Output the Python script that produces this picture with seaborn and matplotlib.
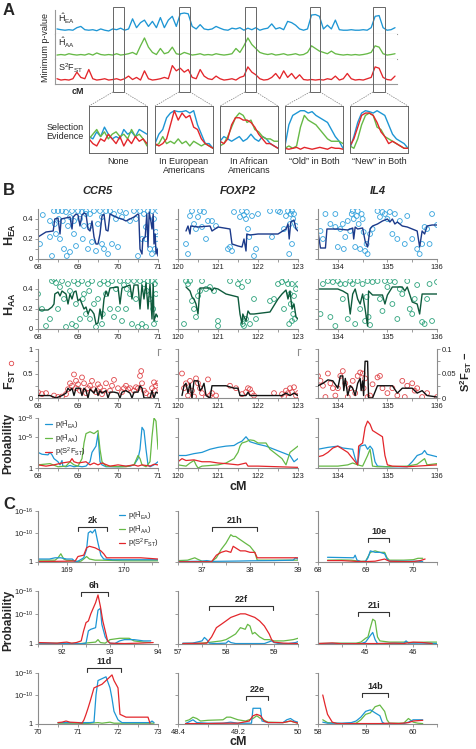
import numpy as np
import pandas as pd
import matplotlib
matplotlib.use("Agg")
import matplotlib.pyplot as plt
import seaborn as sns
from matplotlib.patches import Rectangle
from matplotlib.lines import Line2D

sns.set_theme(style="ticks")
plt.rcParams['font.family'] = ['Liberation Sans', 'DejaVu Sans']
plt.rcParams['mathtext.fontset'] = 'custom'
plt.rcParams['mathtext.rm'] = 'Liberation Sans'
plt.rcParams['mathtext.it'] = 'Liberation Sans:italic'
plt.rcParams['mathtext.bf'] = 'Liberation Sans:bold'

BLUE, GREEN, RED = '#1e96d4', '#66b946', '#e3262b'
NAVY, LBLUE, TEAL, DKGREEN = '#1c3a8a', '#35a3dd', '#2ea37c', '#0e5a3c'
SPINE = '#8c8c8c'

# ---------------- panel A: genome-wide traces (grid step 4) ----------------
a_hea = [0.25,0.22,0.2,0.22,0.2,0.3,0.35,0.22,0.2,0.22,0.18,0.25,0.2,0.17,0.25,0.22,0.28,0.2,0.25,0.65,
         0.3,0.5,0.6,0.35,0.55,0.3,0.7,0.3,0.6,0.75,0.35,0.85,0.88,0.85,0.35,0.25,0.42,0.25,0.22,0.25,
         0.35,0.28,0.22,0.2,0.28,0.25,0.3,0.2,0.28,0.22,0.3,0.2,0.25,0.28,0.45,0.25,0.3,0.22,0.55,0.5,
         0.4,0.25,0.2,0.25,0.8,0.82,0.75,0.25,0.4,0.25,0.6,0.22,0.2,0.2,0.22,0.2,0.2,0.22,0.2,0.3,
         0.75,0.78,0.3,0.2,0.22,0.3]
a_haa = [0.2,0.22,0.2,0.25,0.22,0.2,0.22,0.2,0.25,0.2,0.28,0.22,0.2,0.22,0.2,0.25,0.2,0.22,0.25,0.3,
         0.22,0.55,0.85,0.5,0.3,0.22,0.45,0.25,0.3,0.5,0.25,0.22,0.3,0.25,0.2,0.22,0.25,0.2,0.22,0.2,
         0.25,0.22,0.2,0.22,0.25,0.45,0.3,0.55,0.85,0.6,0.45,0.3,0.25,0.22,0.25,0.2,0.22,0.25,0.2,0.22,
         0.25,0.2,0.22,0.3,0.55,0.45,0.35,0.3,0.25,0.35,0.25,0.22,0.2,0.22,0.2,0.22,0.2,0.22,0.25,0.3,
         0.55,0.5,0.25,0.2,0.22,0.25]
a_s2fst = [0.25,0.2,0.22,0.2,0.25,0.5,0.3,0.25,0.6,0.25,0.2,0.22,0.25,0.2,0.22,0.25,0.2,0.25,0.35,0.22,
           0.3,0.2,0.55,0.25,0.2,0.22,0.25,0.3,0.25,0.75,0.55,0.65,0.5,0.6,0.3,0.25,0.6,0.35,0.25,0.22,
           0.35,0.25,0.2,0.22,0.25,0.2,0.3,0.35,0.7,0.5,0.4,0.25,0.2,0.22,0.3,0.45,0.25,0.55,0.3,0.45,
           0.25,0.4,0.22,0.2,0.22,0.2,0.22,0.2,0.25,0.22,0.35,0.2,0.25,0.45,0.25,0.2,0.22,0.2,0.25,0.3,
           0.7,0.65,0.3,0.22,0.2,0.35]
a_grid = np.arange(len(a_hea)) * 4
a_boxes = [(58, 69), (124, 135), (190, 201), (255, 265), (318, 330)]

# zoomed selection-evidence examples: (blue, green, red)
zoom_names = ["None", "In European\nAmericans", "In African\nAmericans",
              "\u201cOld\u201d in Both", "\u201cNew\u201d in Both"]
zoom_blue = [[0.35,0.3,0.45,0.35,0.55,0.4,0.3,0.35,0.3,0.5,0.4,0.45,0.35,0.5,0.45,0.4],
             [0.2,0.4,0.5,0.75,0.85,0.9,0.88,0.88,0.9,0.85,0.9,0.6,0.4,0.2,0.2,0.1],
             [0.25,0.35,0.3,0.25,0.3,0.35,0.25,0.3,0.4,0.3,0.25,0.35,0.3,0.2,0.15,0.1],
             [0.15,0.6,0.8,0.85,0.9,0.9,0.85,0.88,0.8,0.75,0.7,0.65,0.5,0.35,0.25,0.1],
             [0.1,0.35,0.65,0.85,0.9,0.88,0.85,0.9,0.85,0.8,0.6,0.4,0.3,0.25,0.2,0.1]]
zoom_green = [[0.3,0.4,0.5,0.35,0.45,0.3,0.4,0.45,0.35,0.4,0.3,0.5,0.35,0.4,0.3,0.15],
              [0.15,0.2,0.35,0.2,0.25,0.2,0.3,0.2,0.25,0.15,0.25,0.2,0.15,0.2,0.15,0.1],
              [0.15,0.2,0.35,0.55,0.75,0.85,0.8,0.65,0.7,0.5,0.45,0.35,0.3,0.3,0.25,0.25],
              [0.1,0.15,0.1,0.15,0.55,0.8,0.7,0.65,0.6,0.5,0.4,0.3,0.25,0.25,0.25,0.2],
              [0.15,0.1,0.3,0.6,0.8,0.85,0.8,0.55,0.5,0.35,0.3,0.25,0.2,0.15,0.1,0.1]]
zoom_red = [[0.3,0.2,0.15,0.3,0.25,0.4,0.3,0.2,0.35,0.15,0.3,0.2,0.35,0.25,0.3,0.2],
            [0.2,0.15,0.2,0.3,0.6,0.9,0.7,0.85,0.75,0.8,0.55,0.5,0.3,0.2,0.15,0.1],
            [0.25,0.2,0.3,0.6,0.75,0.75,0.7,0.7,0.65,0.55,0.4,0.3,0.2,0.2,0.15,0.1],
            [0.1,0.08,0.1,0.12,0.08,0.12,0.1,0.08,0.1,0.12,0.1,0.08,0.12,0.1,0.1,0.08],
            [0.15,0.3,0.55,0.8,0.85,0.85,0.8,0.65,0.45,0.35,0.2,0.25,0.2,0.15,0.1,0.1]]

# ---------------- panel B ----------------
genes = ["CCR5", "FOXP2", "IL4"]
b_xlims = [(68, 71), (120, 123), (133.6, 136)]
b_xticks = [[68, 69, 70, 71], [120, 121, 122, 123], [134, 135, 136]]

hea_pts = [
    [(68.05,0.15),(68.12,0.44),(68.3,0.38),(68.35,0.03),(68.4,0.48),(68.42,0.35),(68.45,0.25),(68.5,0.48),(68.52,0.4),
     (68.55,0.2),(68.6,0.48),(68.62,0.38),(68.65,0.1),(68.7,0.47),(68.72,0.03),(68.75,0.33),(68.8,0.07),(68.85,0.48),
     (68.9,0.25),(68.95,0.13),(69.0,0.48),(69.05,0.4),(69.1,0.47),(69.12,0.2),(69.15,0.33),(69.2,0.48),(69.25,0.1),
     (69.3,0.45),(69.35,0.17),(69.4,0.48),(69.45,0.08),(69.5,0.35),(69.55,0.48),(69.6,0.42),(69.65,0.1),(69.7,0.48),
     (69.75,0.05),(69.8,0.48),(69.85,0.15),(69.9,0.45),(69.95,0.4),(70.0,0.12),(70.05,0.48),(70.1,0.42),(70.2,0.46),
     (70.3,0.38),(70.4,0.48),(70.45,0.4),(70.5,0.03),(70.55,0.48),(70.6,0.2),(70.65,0.45),(70.7,0.32),(70.75,0.48),
     (70.8,0.1),(70.85,0.48),(70.9,0.4),(70.95,0.27),(71.0,0.48),(68.9,0.38),(69.3,0.33),(69.6,0.15),(70.7,0.2),
     (70.85,0.05),(68.3,0.22),(68.8,0.42),(69.2,0.45),(70.92,0.1),(70.97,0.2)],
    [(120.2,0.15),(120.25,0.05),(120.3,0.43),(120.35,0.48),(120.4,0.35),(120.45,0.3),(120.5,0.42),(120.55,0.48),
     (120.6,0.32),(120.65,0.47),(120.7,0.2),(120.75,0.38),(120.85,0.38),(121.3,0.12),(121.35,0.08),(121.4,0.47),
     (121.55,0.42),(121.6,0.48),(121.65,0.44),(121.7,0.4),(121.72,0.47),(121.75,0.3),(121.78,0.22),(121.85,0.43),
     (121.9,0.03),(121.95,0.1),(122.0,0.45),(122.3,0.48),(122.35,0.22),(122.5,0.48),(122.55,0.47),(122.65,0.3),
     (122.7,0.43),(122.75,0.48),(122.8,0.35),(122.82,0.45),(122.85,0.48),(122.88,0.4),(122.9,0.45),(122.95,0.33),
     (122.78,0.05),(122.85,0.15),(121.25,0.1),(120.95,0.33)],
    [(133.65,0.28),(133.7,0.2),(133.75,0.45),(133.85,0.35),(133.95,0.32),(134.0,0.12),(134.05,0.3),(134.1,0.35),
     (134.15,0.22),(134.2,0.38),(134.25,0.28),(134.28,0.45),(134.3,0.48),(134.32,0.4),(134.35,0.12),(134.38,0.43),
     (134.4,0.48),(134.42,0.35),(134.45,0.1),(134.48,0.45),(134.5,0.4),(134.52,0.27),(134.55,0.08),(134.58,0.15),
     (134.6,0.05),(134.65,0.25),(134.7,0.3),(134.8,0.48),(134.85,0.42),(134.9,0.47),(134.95,0.45),(135.0,0.4),
     (135.05,0.47),(135.1,0.25),(135.15,0.45),(135.2,0.2),(135.25,0.38),(135.35,0.15),(135.4,0.43),(135.5,0.2),
     (135.6,0.1),(135.65,0.05),(135.7,0.15),(135.75,0.32),(135.8,0.3),(135.85,0.15),(135.9,0.45),(136.0,0.34),
     (134.12,0.1),(133.95,0.45)],
]
hea_line = [
    [(68.0,0.22),(68.2,0.27),(68.38,0.28),(68.42,0.40),(68.5,0.41),(68.55,0.25),(68.58,0.40),(68.8,0.42),(68.85,0.3),
     (68.88,0.42),(68.95,0.45),(69.0,0.44),(69.05,0.33),(69.1,0.44),(69.15,0.46),(69.2,0.45),(69.25,0.3),(69.3,0.28),
     (69.35,0.38),(69.4,0.22),(69.45,0.15),(69.5,0.15),(69.55,0.25),(69.6,0.43),(69.65,0.45),(69.7,0.29),(69.75,0.28),
     (69.8,0.45),(69.9,0.43),(70.0,0.41),(70.1,0.40),(70.2,0.38),(70.3,0.40),(70.4,0.42),(70.5,0.45),(70.52,0.44),
     (70.55,0.1),(70.6,0.05),(70.62,0.2),(70.68,0.22),(70.72,0.45),(70.75,0.12),(70.78,0.47),(70.82,0.38),(70.85,0.3),
     (70.88,0.45),(70.9,0.15),(70.93,0.25),(70.95,0.05),(70.98,0.1),(71.0,0.03)],
    [(120.2,0.28),(120.25,0.33),(120.3,0.25),(120.32,0.33),(120.5,0.32),(120.8,0.33),(120.85,0.28),(121.0,0.32),
     (121.3,0.30),(121.35,0.15),(121.5,0.13),(121.6,0.12),(121.65,0.2),(121.7,0.08),(121.72,0.25),(121.8,0.24),
     (122.0,0.25),(122.5,0.25),(122.7,0.3),(122.75,0.35),(122.78,0.2),(122.82,0.37),(122.9,0.39),(122.95,0.3),(123.0,0.28)],
    [(133.6,0.27),(133.65,0.11),(133.75,0.11),(133.78,0.30),(134.0,0.30),(134.2,0.29),(134.3,0.31),(134.32,0.2),
     (134.35,0.32),(134.4,0.30),(134.5,0.31),(134.55,0.18),(134.6,0.12),(134.65,0.30),(134.7,0.33),(134.8,0.35),
     (134.9,0.38),(135.0,0.4),(135.05,0.37),(135.1,0.4),(135.15,0.35),(135.2,0.37),(135.3,0.33),(135.4,0.32),
     (135.5,0.30),(135.6,0.28),(135.65,0.12),(135.7,0.28),(135.75,0.25),(135.8,0.33),(135.9,0.34),(136.0,0.34)],
]
haa_pts = [
    [(68.0,0.35),(68.1,0.2),(68.2,0.03),(68.3,0.1),(68.35,0.48),(68.4,0.5),(68.45,0.46),(68.5,0.2),(68.55,0.42),
     (68.6,0.48),(68.65,0.3),(68.7,0.02),(68.75,0.45),(68.8,0.38),(68.85,0.05),(68.9,0.48),(68.95,0.25),(69.0,0.45),
     (69.05,0.1),(69.1,0.48),(69.15,0.35),(69.2,0.15),(69.25,0.45),(69.3,0.1),(69.35,0.48),(69.4,0.25),(69.45,0.02),
     (69.5,0.3),(69.55,0.45),(69.6,0.05),(69.65,0.48),(69.7,0.35),(69.75,0.45),(69.8,0.2),(69.85,0.48),(69.9,0.12),
     (69.95,0.4),(70.0,0.2),(70.05,0.48),(70.1,0.08),(70.15,0.44),(70.2,0.2),(70.25,0.48),(70.3,0.35),(70.35,0.05),
     (70.4,0.48),(70.45,0.3),(70.5,0.02),(70.55,0.48),(70.6,0.05),(70.65,0.45),(70.7,0.02),(70.75,0.48),(70.8,0.3),
     (70.85,0.48),(70.9,0.05),(70.95,0.35),(71.0,0.48),(69.12,0.3),(69.28,0.38),(70.88,0.2),(70.72,0.38),(68.95,0.03),
     (69.62,0.15),(70.22,0.4),(70.92,0.45),(70.97,0.1)],
    [(120.15,0.05),(120.2,0.48),(120.25,0.45),(120.3,0.48),(120.35,0.28),(120.4,0.2),(120.45,0.12),(120.5,0.33),
     (120.55,0.38),(120.6,0.48),(120.7,0.4),(120.8,0.42),(120.9,0.38),(121.0,0.08),(121.3,0.48),(121.5,0.45),
     (121.55,0.5),(121.6,0.42),(121.62,0.05),(121.65,0.03),(121.7,0.1),(121.75,0.48),(121.8,0.05),(121.9,0.3),
     (121.95,0.1),(122.3,0.28),(122.4,0.3),(122.5,0.45),(122.6,0.47),(122.7,0.49),(122.75,0.45),(122.8,0.35),
     (122.82,0.25),(122.85,0.45),(122.88,0.15),(122.9,0.33),(122.92,0.1),(122.95,0.4),(123.0,0.45),(122.65,0.2),
     (122.78,0.05),(122.85,0.08),(121.0,0.03)],
    [(133.65,0.15),(133.7,0.45),(133.8,0.48),(133.85,0.12),(133.9,0.47),(133.95,0.03),(134.0,0.48),(134.05,0.45),
     (134.1,0.3),(134.15,0.45),(134.2,0.1),(134.25,0.48),(134.3,0.45),(134.35,0.05),(134.4,0.48),(134.45,0.2),
     (134.5,0.45),(134.55,0.08),(134.6,0.48),(134.62,0.12),(134.65,0.04),(134.7,0.47),(134.8,0.48),(134.85,0.3),
     (134.9,0.18),(134.95,0.48),(135.0,0.42),(135.05,0.48),(135.1,0.25),(135.15,0.47),(135.2,0.1),(135.25,0.4),
     (135.3,0.35),(135.4,0.48),(135.45,0.2),(135.5,0.15),(135.6,0.44),(135.7,0.07),(135.75,0.05),(135.8,0.3),
     (135.85,0.45),(135.9,0.08),(136.0,0.47),(135.55,0.3),(134.58,0.32)],
]
haa_line = [
    [(68.0,0.28),(68.02,0.19),(68.25,0.19),(68.35,0.22),(68.4,0.25),(68.42,0.35),(68.5,0.37),(68.55,0.33),(68.6,0.38),
     (68.7,0.35),(68.75,0.25),(68.8,0.35),(68.85,0.3),(68.9,0.37),(68.95,0.38),(69.0,0.28),(69.05,0.3),(69.1,0.25),
     (69.15,0.2),(69.2,0.22),(69.25,0.15),(69.3,0.2),(69.35,0.18),(69.4,0.15),(69.45,0.05),(69.5,0.06),(69.55,0.2),
     (69.6,0.1),(69.65,0.3),(69.7,0.38),(69.75,0.33),(69.8,0.41),(70.0,0.42),(70.05,0.25),(70.1,0.41),(70.3,0.44),
     (70.35,0.3),(70.4,0.44),(70.5,0.44),(70.55,0.2),(70.6,0.44),(70.65,0.3),(70.7,0.46),(70.75,0.2),(70.8,0.45),
     (70.85,0.1),(70.88,0.45),(70.9,0.08),(70.95,0.15),(71.0,0.12)],
    [(120.2,0.42),(120.3,0.38),(120.35,0.32),(120.4,0.3),(120.45,0.25),(120.5,0.15),(120.55,0.41),(120.8,0.41),
     (120.85,0.38),(120.9,0.41),(121.0,0.4),(121.2,0.35),(121.4,0.33),(121.5,0.32),(121.55,0.15),(121.6,0.05),
     (121.62,0.15),(121.7,0.08),(121.75,0.18),(121.8,0.15),(121.9,0.15),(122.3,0.17),(122.5,0.3),(122.6,0.35),
     (122.7,0.39),(122.75,0.3),(122.8,0.38),(122.85,0.2),(122.9,0.25),(122.95,0.12),(123.0,0.1)],
    [(133.6,0.4),(134.0,0.4),(134.1,0.38),(134.2,0.35),(134.25,0.15),(134.3,0.35),(134.35,0.4),(134.4,0.3),
     (134.45,0.25),(134.5,0.35),(134.55,0.2),(134.6,0.03),(134.62,0.38),(134.7,0.34),(134.9,0.34),(134.95,0.25),
     (135.0,0.34),(135.1,0.42),(135.3,0.42),(135.35,0.38),(135.4,0.42),(135.5,0.27),(135.6,0.25),(135.65,0.15),
     (135.7,0.35),(136.0,0.35)],
]
fst_pts = [
    [(68.0,0.12),(68.1,0.08),(68.2,0.1),(68.4,0.05),(68.5,0.02),(68.6,0.03),(68.7,0.08),(68.75,0.18),(68.8,0.3),
     (68.85,0.25),(68.9,0.48),(68.95,0.2),(69.0,0.28),(69.05,0.15),(69.1,0.42),(69.15,0.3),(69.2,0.1),(69.3,0.25),
     (69.35,0.35),(69.4,0.18),(69.45,0.12),(69.5,0.28),(69.55,0.22),(69.6,0.08),(69.7,0.3),(69.8,0.15),(69.85,0.25),
     (69.9,0.37),(70.0,0.2),(70.1,0.12),(70.15,0.2),(70.2,0.25),(70.3,0.2),(70.4,0.15),(70.45,0.22),(70.5,0.2),
     (70.55,0.45),(70.58,0.55),(70.6,0.3),(70.65,0.15),(70.8,0.05),(70.85,0.2),(70.9,0.32),(70.95,0.25),(71.0,0.3),
     (68.95,0.35),(69.25,0.2),(69.65,0.15),(70.25,0.18),(70.7,0.1),(70.92,0.15)],
    [(120.1,0.5),(120.15,0.2),(120.2,0.3),(120.25,0.05),(120.3,0.35),(120.35,0.15),(120.4,0.03),(120.45,0.4),
     (120.5,0.3),(120.55,0.2),(120.6,0.1),(120.7,0.02),(120.75,0.38),(120.8,0.05),(120.85,0.1),(121.3,0.25),
     (121.45,0.2),(121.6,0.08),(121.7,0.12),(121.8,0.18),(121.85,0.1),(121.9,0.05),(122.4,0.1),(122.6,0.08),
     (122.7,0.15),(122.75,0.1),(122.8,0.2),(122.85,0.12),(122.9,0.22),(122.95,0.05),(123.0,0.1),(120.95,0.05),
     (121.75,0.2),(122.65,0.03)],
    [(133.6,0.45),(133.65,0.35),(133.7,0.25),(133.75,0.02),(133.8,0.5),(133.85,0.3),(133.9,0.2),(133.95,0.05),
     (134.0,0.2),(134.05,0.45),(134.1,0.55),(134.15,0.3),(134.2,0.02),(134.25,0.2),(134.3,0.35),(134.35,0.1),
     (134.4,0.45),(134.45,0.52),(134.5,0.5),(134.52,0.2),(134.55,0.4),(134.6,0.02),(134.7,0.28),(134.8,0.42),
     (134.85,0.45),(134.9,0.2),(135.0,0.1),(135.1,0.2),(135.2,0.05),(135.3,0.35),(135.4,0.25),(135.5,0.3),
     (135.55,0.15),(135.6,0.2),(135.7,0.02),(135.8,0.1),(136.0,0.02),(135.35,0.02),(134.65,0.05)],
]
s2fst_line = [
    [(68.0,0.005),(68.3,0.005),(68.45,0.0),(68.6,0.005),(68.7,0.01),(68.75,0.02),(68.8,0.015),(68.85,0.02),(68.9,0.005),
     (68.95,0.02),(69.05,0.02),(69.1,0.005),(69.15,0.02),(69.2,0.015),(69.25,0.0),(69.3,0.018),(69.4,0.01),(69.45,0.02),
     (69.5,0.005),(69.55,0.015),(69.6,0.01),(69.7,0.015),(69.75,0.0),(69.8,0.012),(69.9,0.012),(70.0,0.01),(70.05,0.0),
     (70.1,0.012),(70.2,0.015),(70.3,0.01),(70.35,0.0),(70.4,0.012),(70.5,0.012),(70.55,0.025),(70.6,0.02),(70.65,0.0),
     (70.8,0.0),(70.85,0.015),(70.9,0.0),(70.95,0.012),(71.0,0.01)],
    [(120.1,0.005),(120.15,0.025),(120.2,0.03),(120.25,0.01),(120.3,0.03),(120.35,0.0),(120.4,0.035),(120.5,0.035),
     (120.55,0.015),(120.6,0.02),(120.65,0.03),(120.7,0.005),(120.8,0.0),(120.85,0.025),(121.2,0.025),(121.4,0.02),
     (121.5,0.02),(121.55,0.005),(121.7,0.005),(121.75,0.012),(121.8,0.005),(122.0,0.005),(122.6,0.005),(122.7,0.01),
     (122.8,0.005),(122.9,0.01),(123.0,0.005)],
    [(133.6,0.025),(133.7,0.03),(133.8,0.037),(133.9,0.035),(134.0,0.02),(134.05,0.045),(134.1,0.045),(134.12,0.015),
     (134.15,0.04),(134.2,0.005),(134.25,0.025),(134.3,0.02),(134.35,0.005),(134.4,0.03),(134.45,0.04),(134.47,0.015),
     (134.5,0.035),(134.52,0.005),(134.55,0.075),(134.6,0.075),(134.62,0.0),(134.7,0.0),(134.8,0.025),(135.1,0.025),
     (135.2,0.01),(135.3,0.02),(135.5,0.02),(135.6,0.01),(135.7,0.015),(135.8,0.005),(136.0,0.002)],
]
# probability rows, in -log10(p)
prob_blue = [
    [(68.0,2.5),(68.1,2.2),(68.25,2.1),(68.3,2.5),(68.35,2.1),(68.4,1.5),(68.5,1.0),(68.55,0.5),(68.6,1.2),(68.62,0.3),
     (68.7,0.2),(68.8,0.4),(68.9,0.2),(69.0,0.3),(69.1,0.2),(69.2,0.3),(69.3,1.0),(69.35,2.5),(69.4,3.0),(69.45,3.5),
     (69.5,5.5),(69.55,1.0),(69.6,0.5),(69.7,0.2),(70.0,0.2),(70.3,0.3),(70.4,0.5),(70.5,1.5),(70.55,3.0),(70.6,6.5),
     (70.65,6.0),(70.7,3.0),(70.75,0.5),(70.8,0.2),(70.9,0.5),(71.0,1.0)],
    [(120.0,2.0),(120.2,2.0),(120.4,2.3),(120.6,2.5),(120.8,3.0),(121.0,3.3),(121.2,3.5),(121.4,3.6),(121.5,4.0),
     (121.6,4.3),(121.7,5.0),(121.75,4.6),(121.8,4.2),(122.0,3.8),(122.2,3.5),(122.4,3.0),(122.6,2.5),(122.8,2.0),
     (122.9,1.0),(123.0,1.5)],
    [(133.6,3.0),(133.8,3.3),(134.0,3.5),(134.1,3.2),(134.3,3.0),(134.35,1.5),(134.4,0.5),(134.45,3.5),(134.55,3.7),
     (134.6,3.0),(134.65,3.5),(134.7,3.0),(134.75,1.0),(134.8,0.3),(135.0,0.2),(135.4,0.2),(135.5,1.0),(135.6,2.0),
     (135.7,2.3),(135.75,2.8),(135.8,2.2),(135.9,2.0),(136.0,1.8)],
]
prob_green = [
    [(68.0,0.5),(68.3,0.7),(68.5,0.2),(68.7,0.3),(68.8,1.0),(68.9,0.5),(69.0,0.3),(69.1,1.5),(69.15,4.0),(69.2,5.5),
     (69.3,5.8),(69.4,5.5),(69.5,6.0),(69.55,3.0),(69.6,1.0),(69.7,0.3),(70.0,0.2),(70.2,0.2),(70.4,0.5),(70.5,2.0),
     (70.55,1.5),(70.6,0.5),(70.7,0.2),(70.8,1.0),(70.85,5.0),(70.9,8.0),(70.95,7.5),(71.0,3.0)],
    [(120.0,0.5),(120.2,0.3),(120.3,0.8),(120.4,1.2),(120.45,0.5),(120.5,0.0),(120.6,0.3),(121.0,0.5),(121.2,0.8),
     (121.4,1.5),(121.5,2.5),(121.55,3.5),(121.6,4.0),(121.7,4.2),(121.8,4.5),(121.9,4.4),(122.0,4.0),(122.2,4.0),
     (122.3,3.0),(122.4,2.5),(122.5,2.0),(122.6,1.5),(122.7,0.5),(122.8,2.5),(122.9,3.0),(123.0,3.5)],
    [(133.6,0.3),(134.0,0.3),(134.2,0.5),(134.3,0.8),(134.4,0.5),(134.5,0.3),(134.6,2.0),(134.65,3.0),(134.7,0.3),
     (134.8,0.2),(135.0,0.2),(135.4,0.3),(135.6,0.6),(135.7,1.2),(135.75,1.5),(135.8,0.5),(135.9,0.6),(136.0,0.7)],
]
prob_red = [
    [(68.0,0.5),(68.2,0.3),(68.4,0.5),(68.6,0.8),(68.8,1.0),(68.85,1.5),(68.9,1.0),(69.0,0.8),(69.2,1.0),(69.3,0.5),
     (69.4,0.8),(69.5,0.5),(69.6,0.8),(69.8,0.3),(70.0,0.5),(70.2,0.3),(70.4,0.5),(70.5,0.3),(70.6,0.5),(70.8,0.3),
     (70.9,0.6),(71.0,0.5)],
    [(120.0,1.0),(120.1,1.5),(120.2,1.2),(120.4,1.3),(120.6,1.0),(120.8,1.0),(121.0,0.8),(121.2,0.7),(121.5,0.5),
     (121.7,0.8),(121.75,0.3),(122.0,0.3),(122.5,0.2),(123.0,0.1)],
    [(133.6,1.8),(133.7,2.0),(133.8,2.5),(133.9,3.2),(134.0,3.5),(134.1,3.0),(134.2,2.5),(134.3,1.5),(134.4,0.5),
     (134.42,3.5),(134.5,4.0),(134.55,6.5),(134.6,7.5),(134.65,7.0),(134.7,6.0),(134.8,5.5),(134.9,5.0),(134.95,2.0),
     (135.0,0.5),(135.1,0.3),(135.4,0.2),(135.6,0.3),(136.0,0.5)],
]

# ---------------- panel C: candidate regions, -log10(p) ----------------
c_names = ["2k", "21h", "10e", "6h", "22f", "21i", "11d", "22e", "14b"]
c_xlims = [(168.5, 170.6), (36.5, 39), (68, 70.5), (91.5, 94), (57, 59.5), (44, 46.5), (70, 73), (48.4, 50), (58, 60.5)]
c_xticks = [[169, 170], [37, 38, 39], [68, 69, 70], [92, 93, 94], [57, 58, 59], [45, 46], [70, 71, 72, 73],
            [48.4, 49.2, 50], [58, 59, 60]]
c_brackets = [(169.2, 169.7), (37.2, 38.15), (69.05, 69.5), (92.4, 92.95), (57.65, 58.98), (44.85, 45.5),
              (71.22, 72.07), (49.3, 49.6), (58.93, 59.47)]
c_bracket_h = [0.69, 0.69, 0.47, 0.98, 0.72, 0.6, 1.1, 0.55, 0.61]
c_blue = [
    [(168.5,1.5),(168.7,1.5),(168.8,2.0),(168.9,2.0),(169.0,1.5),(169.1,1.5),(169.15,0.3),(169.2,0.5),(169.3,2.0),
     (169.35,5.0),(169.38,10.0),(169.42,10.5),(169.45,10.0),(169.5,11.0),(169.55,7.0),(169.6,3.0),(169.65,1.5),
     (169.8,1.2),(170.6,1.2)],
    [(36.5,0.3),(37.0,0.5),(37.1,0.8),(37.2,0.4),(37.5,0.5),(37.8,0.6),(38.0,0.7),(38.5,0.8),(38.9,1.0),(38.95,2.0),(39.0,1.5)],
    [(68.2,2.2),(68.75,2.0),(68.78,3.0),(68.82,1.0),(68.9,0.3),(69.0,0.4),(69.05,2.0),(69.1,4.5),(69.2,4.0),(69.3,4.0),
     (69.4,3.5),(69.45,1.5),(69.5,0.5),(70.1,0.5),(70.2,0.3)],
    [(91.5,0.5),(92.0,0.3),(92.4,0.2),(92.5,0.5),(92.55,5.0),(92.6,5.5),(92.7,6.0),(92.75,11.0),(92.8,11.5),(92.83,7.0),
     (92.9,3.0),(92.95,1.5),(93.0,0.5),(93.1,0.3),(93.2,1.5),(93.3,2.0),(93.5,2.0),(93.7,1.5),(93.85,1.5)],
    [(57.1,0.5),(57.3,0.5),(57.5,1.5),(57.55,2.8),(57.6,2.0),(57.65,0.5),(57.8,0.3),(58.0,0.5),(58.05,1.5),(58.1,0.8),
     (58.2,0.3),(58.8,0.3),(58.95,1.5),(59.0,0.8),(59.1,0.3),(59.3,0.3),(59.45,0.8),(59.5,1.2)],
    [(44.0,0.3),(44.9,0.3),(45.0,1.0),(45.1,3.5),(45.15,4.5),(45.2,2.0),(45.25,0.3),(45.8,0.5),(45.85,1.5),(45.9,0.5),
     (46.2,0.5),(46.5,0.3)],
    [(70.5,0.8),(71.3,0.8),(71.4,1.0),(71.45,10.0),(71.5,14.0),(71.6,14.5),(71.7,15.0),(71.8,12.0),(71.85,9.0),
     (71.9,5.0),(72.0,2.0),(72.1,0.8),(72.8,0.8),(72.85,1.5),(72.9,0.8)],
    [(48.5,0.3),(48.6,2.0),(48.65,0.8),(48.8,0.5),(49.0,0.5),(49.1,1.0),(49.2,0.5),(49.38,0.5),(49.4,6.0),(49.5,6.0),
     (49.52,1.5),(49.6,0.8),(49.8,0.8),(49.85,2.0),(49.9,2.5),(49.95,1.5),(50.0,1.0)],
    [(58.1,1.0),(58.2,0.5),(58.5,0.5),(58.7,0.8),(58.8,1.5),(58.9,3.0),(59.0,5.0),(59.1,5.5),(59.2,4.5),(59.3,3.5),
     (59.35,1.0),(59.4,0.3),(59.8,0.3),(59.9,1.0),(60.0,2.0),(60.2,2.0)],
]
c_green = [
    [(168.5,1.0),(168.8,1.0),(168.85,2.0),(168.9,3.5),(168.95,1.5),(169.0,1.0),(169.1,0.8),(169.2,0.3),(169.25,0.5),
     (169.3,1.5),(169.35,2.5),(169.4,1.5),(169.5,1.0),(169.6,1.0),(170.0,0.7),(170.6,0.7)],
    [(36.5,0.8),(36.7,1.0),(36.85,2.0),(36.9,1.5),(37.0,0.5),(37.2,0.3),(37.3,2.0),(37.4,5.0),(37.5,7.0),(37.6,9.5),
     (37.65,9.0),(37.7,9.0),(37.75,8.5),(37.9,7.0),(38.0,6.0),(38.1,4.0),(38.15,1.0),(39.0,1.0)],
    [(68.2,1.0),(68.5,1.1),(68.7,1.0),(68.9,0.4),(69.0,0.5),(69.1,4.0),(69.2,4.5),(69.3,4.0),(69.4,4.0),(69.45,2.0),
     (69.5,1.0),(69.8,1.0),(70.0,1.2),(70.1,1.8),(70.2,1.8)],
    [(91.5,0.3),(92.0,0.5),(92.4,0.3),(92.6,0.8),(92.7,1.0),(92.75,2.0),(92.8,0.8),(92.9,0.5),(93.0,2.0),(93.2,2.5),
     (93.4,2.5),(93.5,1.5),(93.7,1.0),(93.85,0.8)],
    [(57.1,0.3),(57.5,0.5),(57.7,1.0),(57.9,1.5),(58.0,2.0),(58.1,3.0),(58.2,4.0),(58.3,6.0),(58.4,5.5),(58.45,7.0),
     (58.5,6.5),(58.55,4.0),(58.6,4.5),(58.7,3.0),(58.8,2.0),(58.9,2.0),(59.0,1.5),(59.2,1.5),(59.4,2.0),(59.5,2.5)],
    [(44.0,0.3),(44.4,0.5),(44.8,0.5),(44.9,1.0),(45.0,2.5),(45.05,3.0),(45.1,6.0),(45.15,8.5),(45.2,8.0),(45.25,3.0),
     (45.3,1.5),(45.5,1.0),(45.8,1.0),(46.0,0.8),(46.3,1.0),(46.5,1.0)],
    [(70.5,0.5),(71.0,0.5),(71.2,0.3),(71.5,0.8),(71.6,0.5),(71.8,1.0),(71.9,0.5),(72.9,0.5)],
    [(48.5,1.5),(48.55,2.0),(48.6,3.0),(48.65,2.5),(48.7,1.5),(48.8,1.8),(49.0,2.0),(49.05,3.0),(49.1,3.0),(49.15,2.5),
     (49.2,2.0),(49.3,1.5),(49.4,2.5),(49.45,3.5),(49.5,2.5),(49.6,1.0),(49.8,0.8),(49.9,1.5),(49.95,1.0),(50.0,0.5)],
    [(58.1,2.0),(58.2,0.8),(58.5,0.3),(58.8,0.5),(58.9,2.0),(59.0,4.0),(59.1,4.5),(59.2,6.5),(59.3,7.0),(59.4,5.0),
     (59.45,2.0),(59.5,0.5),(59.8,0.5),(59.9,2.5),(60.0,1.0),(60.1,0.5),(60.2,0.3)],
]
c_red = [
    [(168.5,0.3),(169.0,0.5),(169.15,0.6),(169.2,2.5),(169.3,3.0),(169.35,5.5),(169.4,6.0),(169.5,5.5),(169.6,4.5),
     (169.65,3.5),(169.7,2.0),(170.3,2.0),(170.6,1.5)],
    [(36.5,0.2),(37.2,0.2),(37.3,3.0),(37.4,4.0),(37.5,4.5),(37.6,4.0),(37.65,6.0),(37.7,5.5),(37.8,4.5),(37.9,4.5),
     (38.0,4.0),(38.1,4.0),(38.15,2.0),(39.0,2.0)],
    [(68.2,0.8),(68.5,0.8),(68.8,0.4),(69.0,0.3),(69.2,0.5),(69.4,1.5),(69.45,1.0),(69.5,0.5),(69.8,0.3),(70.0,0.3),
     (70.15,0.8),(70.25,1.5)],
    [(91.5,0.8),(91.9,0.5),(92.0,0.8),(92.1,1.0),(92.2,0.5),(92.3,0.8),(92.4,1.5),(92.45,5.0),(92.5,7.5),(92.55,8.0),
     (92.6,10.0),(92.7,13.0),(92.75,15.0),(92.8,12.0),(92.85,8.0),(92.9,5.0),(92.95,1.5),(93.0,0.5),(93.3,0.3),
     (93.6,0.5),(93.9,0.8)],
    [(57.1,0.3),(57.6,0.5),(57.7,3.0),(57.8,6.0),(57.9,7.0),(58.0,8.0),(58.1,9.0),(58.2,9.5),(58.3,10.0),(58.4,10.0),
     (58.5,9.5),(58.6,9.0),(58.7,8.0),(58.8,6.5),(58.9,4.0),(58.95,2.0),(59.0,1.0),(59.2,0.5),(59.5,0.3)],
    [(44.0,0.3),(44.3,0.6),(44.5,0.2),(45.0,0.3),(45.3,0.3),(45.6,0.5),(45.8,0.3),(46.0,1.0),(46.2,0.8),(46.4,0.3)],
    [(70.5,0.8),(70.6,1.0),(70.7,1.5),(70.8,1.0),(71.0,0.8),(71.1,0.5),(71.15,2.0),(71.2,4.0),(71.25,6.0),(71.3,8.0),
     (71.4,12.0),(71.5,12.5),(71.6,13.0),(71.7,14.0),(71.8,15.0),(71.85,15.5),(71.9,14.0),(72.0,12.0),(72.05,4.0),
     (72.2,3.0),(72.75,3.0),(72.8,0.5)],
    [(48.5,0.3),(48.8,0.3),(49.0,0.5),(49.2,0.5),(49.35,1.5),(49.4,3.5),(49.45,4.0),(49.5,3.5),(49.55,1.5),(49.6,0.8),
     (49.8,0.8),(49.9,1.5),(50.0,0.5)],
    [(58.1,10.0),(58.15,7.0),(58.2,4.0),(58.3,1.0),(58.4,0.3),(59.3,0.3),(59.5,0.5),(59.7,0.3),(59.9,0.8),(60.0,1.5),
     (60.2,1.8)],
]

# ---------------- helpers ----------------
W, H = 476, 749
fig = plt.figure(figsize=(W / 100, H / 100), dpi=100)
TICK_FS = 5.5


def px_ax(x0, y0, x1, y1):
    return fig.add_axes([x0 / W, 1 - y1 / H, (x1 - x0) / W, (y1 - y0) / H])


def ftext(x, y, s, **kw):
    fig.text(x / W, 1 - y / H, s, **kw)


def fline(xs, ys, **kw):
    fig.add_artist(Line2D([x / W for x in xs], [1 - y / H for y in ys], transform=fig.transFigure, **kw))


def draw(ax, pts, color, lw=0.9, label=None):
    d = pd.DataFrame(pts, columns=["cM", "v"])
    sns.lineplot(data=d, x="cM", y="v", ax=ax, color=color, lw=lw, sort=False,
                 estimator=None, label=label)


def dots(ax, pts, color):
    d = pd.DataFrame(pts, columns=["cM", "v"])
    sns.scatterplot(data=d, x="cM", y="v", ax=ax, marker="o", s=12,
                    facecolor="none", edgecolor=color, linewidth=0.6)


def style(ax, xlim, xticks, ylim, yticks, ylabels, show_ylab):
    ax.set_xlim(xlim)
    ax.set_ylim(ylim)
    ax.set_xticks(xticks)
    ax.set_xticklabels([("%g" % t) for t in xticks])
    step = (xticks[1] - xticks[0]) / 2
    ax.set_xticks(np.arange(xticks[0] - step, xlim[1] + 1e-6, step), minor=True)
    ax.set_xlim(xlim)
    ax.set_yticks(yticks)
    ax.set_yticklabels(ylabels if show_ylab else [])
    sns.despine(ax=ax)
    for s in ("left", "bottom"):
        ax.spines[s].set_color(SPINE)
        ax.spines[s].set_linewidth(0.8)
    ax.tick_params(which="both", length=2.5, width=0.6, color=SPINE, labelsize=TICK_FS, pad=1,
                   labelcolor="#222222")
    ax.tick_params(which="minor", length=2)
    ax.set_xlabel("")
    ax.set_ylabel("")
    if ax.get_legend() is not None:
        ax.get_legend().remove()


# ---------------- panel A ----------------
ftext(3, 3, "A", fontsize=12, fontweight="bold", va="top")
rows_a = [(a_hea, BLUE, 10, 34, r"$\hat{\mathrm{H}}_{\mathrm{EA}}$"),
          (a_haa, GREEN, 34, 59, r"$\hat{\mathrm{H}}_{\mathrm{AA}}$"),
          (a_s2fst, RED, 59, 84, r"S$^2$F$_{\mathrm{ST}}$")]
for vals, col, y0, y1, lab in rows_a:
    ax = px_ax(55, y0, 397, y1)
    draw(ax, list(zip(a_grid, vals)), col, lw=0.95)
    ax.set_xlim(-2, 342)
    ax.set_ylim(0.05, 1.0)
    ax.set_xticks([]); ax.set_yticks([])
    ax.set_xlabel(""); ax.set_ylabel("")
    sns.despine(ax=ax)
    for s in ("left", "bottom"):
        ax.spines[s].set_color("#999999")
        ax.spines[s].set_linewidth(0.8)
    ftext(58, y0 + 9, lab, fontsize=6.5, va="center")
ftext(72, 92, "cM", fontsize=6.5, fontweight="bold", va="center")
ftext(46, 47, "Minimum p-value", fontsize=6.5, rotation=90, ha="center", va="center")

zoom_x = [(89, 147), (155, 213), (220, 278), (285, 343), (350, 408)]
for k, (bx0, bx1) in enumerate(a_boxes):
    px0, px1 = 55 + bx0, 55 + bx1
    fig.add_artist(Rectangle((px0 / W, 1 - 92 / H), (px1 - px0) / W, 85 / H, transform=fig.transFigure,
                             fill=False, ec="#666666", lw=0.7))
    zx0, zx1 = zoom_x[k]
    fline([px0, zx0], [92, 106], color="#777777", lw=0.5, ls=(0, (2, 1.5)))
    fline([px1, zx1], [92, 106], color="#777777", lw=0.5, ls=(0, (2, 1.5)))
    zax = px_ax(zx0, 106, zx1, 153)
    gx = np.arange(len(zoom_blue[k]))
    draw(zax, list(zip(gx, zoom_blue[k])), BLUE, lw=1.0)
    draw(zax, list(zip(gx, zoom_green[k])), GREEN, lw=1.0)
    draw(zax, list(zip(gx, zoom_red[k])), RED, lw=1.0)
    zax.set_xlim(0, 15); zax.set_ylim(0, 1.0)
    zax.set_xticks([]); zax.set_yticks([])
    zax.set_xlabel(""); zax.set_ylabel("")
    for s in zax.spines.values():
        s.set_color("#666666"); s.set_linewidth(0.7)
    ftext((zx0 + zx1) / 2, 157, zoom_names[k], fontsize=6.5, ha="center", va="top", linespacing=1.0)
ftext(65, 132, "Selection\nEvidence", fontsize=6.5, ha="center", va="center", linespacing=1.0)

# ---------------- panel B ----------------
ftext(3, 183, "B", fontsize=12, fontweight="bold", va="top")
cols_x = [(38, 158), (178, 298), (318, 437)]
for j, g in enumerate(genes):
    cx0, cx1 = cols_x[j]
    ftext((cx0 + cx1) / 2, 191, g, fontsize=8, fontweight="bold", style="italic", ha="center", va="center")
    show = j == 0

    ax = px_ax(cx0, 209, cx1, 259)
    dots(ax, hea_pts[j], LBLUE)
    draw(ax, hea_line[j], NAVY, lw=1.0)
    style(ax, b_xlims[j], b_xticks[j], (0, 0.5), [0, 0.2, 0.4], ["0", "0.2", "0.4"], show)
    ax.set_yticks([0.1, 0.3], minor=True)

    ax = px_ax(cx0, 279, cx1, 329)
    dots(ax, haa_pts[j], TEAL)
    draw(ax, haa_line[j], DKGREEN, lw=1.0)
    style(ax, b_xlims[j], b_xticks[j], (0, 0.5), [0, 0.2, 0.4], ["0", "0.2", "0.4"], show)
    ax.set_yticks([0.1, 0.3], minor=True)

    ax = px_ax(cx0, 349, cx1, 398)
    dots(ax, fst_pts[j], "#e0484c")
    style(ax, b_xlims[j], b_xticks[j], (0, 1), [0, 0.5, 1], ["0", "0.5", "1"], show)
    ax.set_yticks([0.25, 0.75], minor=True)
    tw = ax.twinx()
    draw(tw, s2fst_line[j], "#111111", lw=1.0)
    tw.set_ylim(0, 0.1)
    tw.set_xlim(b_xlims[j])
    tw.set_ylabel("")
    if tw.get_legend() is not None:
        tw.get_legend().remove()
    for s in ("top", "left", "bottom"):
        tw.spines[s].set_visible(False)
    tw.spines["right"].set_color(SPINE)
    tw.spines["right"].set_linewidth(0.8)
    tw.tick_params(which="both", length=2.5, width=0.6, color=SPINE, labelsize=TICK_FS, pad=1)
    tw.tick_params(which="minor", length=2)
    if j == 2:
        tw.set_yticks([0, 0.05, 0.1])
        tw.set_yticklabels(["0", "0.05", "0.1"])
        tw.set_yticks([0.025, 0.075], minor=True)
    else:
        tw.spines["right"].set_bounds(0.088, 0.1)
        tw.set_yticks([0.1])
        tw.set_yticklabels([])

    ax = px_ax(cx0, 418, cx1, 468)
    draw(ax, prob_blue[j], BLUE, label=r"p($\hat{\mathrm{H}}_{\mathrm{EA}}$)")
    draw(ax, prob_green[j], GREEN, label=r"p($\hat{\mathrm{H}}_{\mathrm{AA}}$)")
    draw(ax, prob_red[j], RED, label=r"p(S$^2$F$_{\mathrm{ST}}$)")
    style(ax, b_xlims[j], b_xticks[j], (0, 8), [0, 5, 8], ["1", r"10$^{-5}$", r"10$^{-8}$"], show)
    if j == 0:
        ax.legend(loc="upper left", bbox_to_anchor=(0.03, 1.08), frameon=False, fontsize=5.5,
                  handlelength=0.8, handletextpad=0.4, labelspacing=0.15, borderpad=0)

ftext(10, 234, r"$\mathbf{H}_\mathbf{EA}$", fontsize=9, rotation=90, ha="center", va="center")
ftext(10, 304, r"$\mathbf{H}_\mathbf{AA}$", fontsize=9, rotation=90, ha="center", va="center")
ftext(10, 380, r"$\mathbf{F}_\mathbf{ST}$", fontsize=9, rotation=90, ha="center", va="center")
fig.add_artist(Line2D([11 / W], [1 - 363 / H], transform=fig.transFigure, marker="o", ms=3.2,
                      mfc="none", mec="#e0484c", mew=0.6, ls="none"))
ftext(466, 372, r"$\mathbf{S^2F}_\mathbf{ST}$ $\mathbf{-}$", fontsize=8, rotation=90, ha="center", va="center")
ftext(8, 443, "Probability", fontsize=8.5, fontweight="bold", rotation=90, ha="center", va="center")
ftext(238, 487, "cM", fontsize=9, fontweight="bold", ha="center", va="center")

# ---------------- panel C ----------------
ftext(3, 497, "C", fontsize=12, fontweight="bold", va="top")
rows_c = [(511, 562), (591, 644), (673, 724)]
fwd = lambda v: np.sign(v) * np.abs(v) ** 1.2
inv = lambda v: np.sign(v) * np.abs(v) ** (1 / 1.2)
for k in range(9):
    r, j = divmod(k, 3)
    cx0, cx1 = cols_x[j]
    ry0, ry1 = rows_c[r]
    ax = px_ax(cx0, ry0, cx1, ry1)
    draw(ax, c_green[k], GREEN, label=r"p($\hat{\mathrm{H}}_{\mathrm{AA}}$)")
    draw(ax, c_blue[k], BLUE, label=r"p($\hat{\mathrm{H}}_{\mathrm{EA}}$)")
    draw(ax, c_red[k], RED, label=r"p(S$^2$F$_{\mathrm{ST}}$)")
    ax.set_yscale("function", functions=(fwd, inv))
    style(ax, c_xlims[k], c_xticks[k], (0, 16), [0, 10, 16], ["1", r"10$^{-10}$", r"10$^{-16}$"], j == 0)
    ax.yaxis.set_minor_locator(plt.NullLocator())
    if k == 7:
        ax.set_xticks([48.8, 49.6], minor=True)
    b0, b1 = c_brackets[k]
    by = c_bracket_h[k]
    tr = ax.get_xaxis_transform()
    ax.plot([b0, b0, b1, b1], [by - 0.08, by, by, by - 0.08], color="#333333", lw=0.8, transform=tr,
            clip_on=False)
    ax.text((b0 + b1) / 2, by + 0.04, c_names[k], transform=tr, fontsize=6.5, fontweight="bold",
            ha="center", va="bottom")
    if k == 0:
        h, l = ax.get_legend_handles_labels()
        order = [1, 0, 2]
        ax.legend([h[i] for i in order], [l[i] for i in order], loc="upper left",
                  bbox_to_anchor=(0.64, 1.12), frameon=False, fontsize=5.5, handlelength=0.8,
                  handletextpad=0.4, labelspacing=0.15, borderpad=0)

ftext(8, 620, "Probability", fontsize=8.5, fontweight="bold", rotation=90, ha="center", va="center")
ftext(238, 742, "cM", fontsize=9, fontweight="bold", ha="center", va="center")

fig.savefig("out.png", dpi=100)
